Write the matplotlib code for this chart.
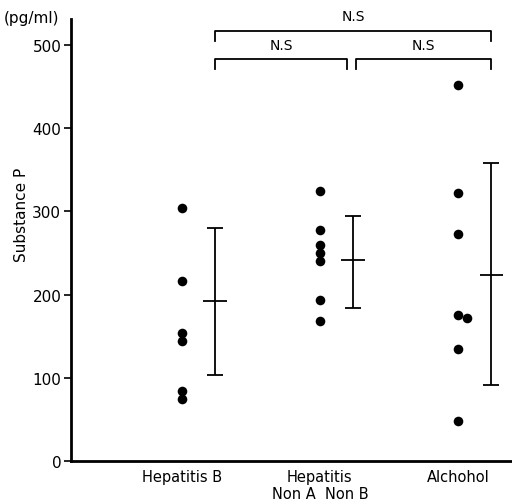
import matplotlib
matplotlib.use("Agg")
import matplotlib.pyplot as plt

categories = ["Hepatitis B", "Hepatitis\nNon A  Non B", "Alchohol"]
hep_b = [304, 216, 154, 144, 84, 75]
nanb = [325, 278, 260, 250, 240, 193, 168]
alcohol = [452, 322, 273, 176, 172, 135, 48]
alcohol_offset = [0, 0, 0, 0, 0.065, 0, 0]
means = [192, 241, 224]
sd_upper = [280, 295, 358]
sd_lower = [103, 184, 91]
yticks = [0, 100, 200, 300, 400, 500]

fig = plt.figure(figsize=(5.12, 5.02), dpi=100)
ax = fig.add_axes([0.1387, 0.0797, 1 - 0.1387, 0.88])

xpos = [1, 2, 3]
groups = [hep_b, nanb, alcohol]
for i, vals in enumerate(groups):
    offs = alcohol_offset if i == 2 else [0] * len(vals)
    ax.scatter([xpos[i] + o for o in offs], vals, s=48, color="black", zorder=3, linewidths=0)

bar_x = [p + 0.24 for p in xpos]
for bx, m, lo, hi in zip(bar_x, means, sd_lower, sd_upper):
    ax.errorbar([bx], [m], yerr=[[m - lo], [hi - m]], fmt="none", ecolor="black",
                elinewidth=1.3, capsize=5.5, capthick=1.3)
    ax.hlines(m, bx - 0.085, bx + 0.085, color="black", lw=1.3)

# significance brackets
def bracket(x0, x1, ytop, ybot, label):
    ax.plot([x0, x0, x1, x1], [ybot, ytop, ytop, ybot], color="black", lw=1.3, clip_on=False)
    ax.text((x0 + x1) / 2, ytop + 9, label, ha="center", va="bottom", fontsize=10, clip_on=False)

bracket(bar_x[0], bar_x[2], 517, 505, "N.S")
bracket(bar_x[0], 2.2, 483, 471, "N.S")
bracket(2.26, bar_x[2], 483, 471, "N.S")

ax.set_xlim(0.2, 3.39)
ax.set_ylim(0, 531)
ax.set_yticks(yticks)
ax.set_yticklabels([str(t) for t in yticks], fontsize=11)
ax.set_xticks(xpos)
ax.set_xticklabels(categories, fontsize=10.5, linespacing=1.1)
ax.tick_params(axis="x", length=0, pad=6)
ax.tick_params(axis="y", length=5, width=1.2, pad=2)
ax.spines["top"].set_visible(False)
ax.spines["right"].set_visible(False)
ax.spines["left"].set_linewidth(2)
ax.spines["bottom"].set_linewidth(2)
fig.text(22 / 512, 1 - 215 / 502, "Substance P", fontsize=11, rotation=90,
         ha="center", va="center")
fig.text(0.008, 1 - 18 / 502, "(pg/ml)", fontsize=11, ha="left", va="center")

fig.savefig("out.png", dpi=100)
